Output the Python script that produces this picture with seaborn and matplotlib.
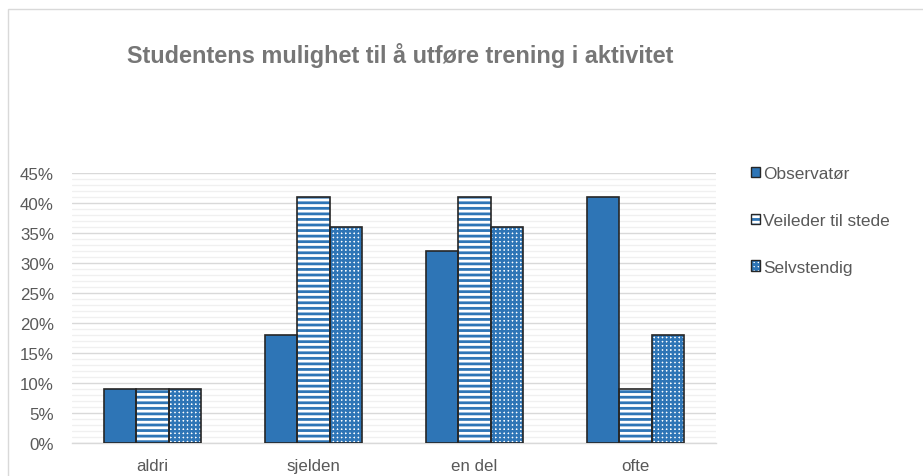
import matplotlib
matplotlib.use("Agg")
import matplotlib.pyplot as plt
import seaborn as sns
import pandas as pd
import numpy as np
from matplotlib.patches import Rectangle
from matplotlib.legend_handler import HandlerTuple
from matplotlib.ticker import MultipleLocator, PercentFormatter

categories = ["aldri", "sjelden", "en del", "ofte"]
series = ["Observatør", "Veileder til stede", "Selvstendig"]
observator = [9, 18, 32, 41]
veileder = [9, 41, 41, 9]
selvstendig = [9, 36, 36, 18]
title = "Studentens mulighet til å utføre trening i aktivitet"

rows = []
for s, vals in zip(series, [observator, veileder, selvstendig]):
    for c, v in zip(categories, vals):
        rows.append({"kategori": c, "serie": s, "verdi": v})
df = pd.DataFrame(rows)

sns.set_theme(style="white")
plt.rcParams["font.family"] = ["Liberation Sans", "DejaVu Sans"]
plt.rcParams["hatch.linewidth"] = 2.0

blue = "#2E75B6"
gray = "#595959"
faces = [blue, "white", "white"]

fig = plt.figure(figsize=(9.23, 4.77), dpi=100)
ax = fig.add_axes([72/923, 1 - 444/477, (716-72)/923, (444-174)/477])

sns.barplot(data=df, x="kategori", y="verdi", hue="serie", order=categories,
            hue_order=series, palette=faces, width=0.6,
            ax=ax, legend=False, errorbar=None, saturation=1, zorder=3)

hatches = [None, "---", "++++"]
hatch_lw = [1.0, 2.0, 1.8]
for i, cont in enumerate(ax.containers):
    for p in cont:
        p.set_hatch(hatches[i] if hatches[i] else "")
        p.set_edgecolor(blue)
        p.set_linewidth(0)
        if hasattr(p, "set_hatch_linewidth"):
            p.set_hatch_linewidth(hatch_lw[i])
        ax.add_patch(Rectangle(p.get_xy(), p.get_width(), p.get_height(),
                               fill=False, edgecolor="#262626", linewidth=1.2, zorder=4))

ax.set_ylim(0, 45)
ax.set_xlim(-0.5, 3.5)
ax.yaxis.set_major_locator(MultipleLocator(5))
ax.yaxis.set_minor_locator(MultipleLocator(1))
ax.yaxis.set_major_formatter(PercentFormatter(decimals=0))
ax.grid(axis="y", which="major", color="#d9d9d9", linewidth=1, zorder=0)
ax.grid(axis="y", which="minor", color="#f0f0f0", linewidth=1, zorder=0)
ax.set_axisbelow(True)
for s in ["top", "right", "left"]:
    ax.spines[s].set_visible(False)
ax.spines["bottom"].set_color("#d9d9d9")
ax.spines["bottom"].set_linewidth(1)
ax.tick_params(axis="both", which="both", length=0, colors=gray, labelsize=12.2)
ax.tick_params(axis="x", pad=11)
ax.tick_params(axis="y", pad=13)
ax.set_xlabel("")
ax.set_ylabel("")

fig.text(400/923, 1 - 55/477, title, ha="center", va="center", fontsize=16.9,
         fontweight="bold", color="#767676")

# legend
handles = []
for i in range(3):
    fill = Rectangle((0, 0), 1, 1, facecolor=faces[i], edgecolor=blue,
                     hatch=hatches[i] if hatches[i] else None, linewidth=0)
    outline = Rectangle((0, 0), 1, 1, fill=False, edgecolor="#262626", linewidth=1)
    handles.append((fill, outline))
leg = fig.legend(handles, series, loc="upper left", bbox_to_anchor=(751/923, 1 - 167/477),
                 frameon=False, fontsize=12.4, handlelength=0.55, handleheight=0.55,
                 handletextpad=0.15, labelspacing=1.85, borderaxespad=0, borderpad=0,
                 handler_map={tuple: HandlerTuple(ndivide=1, pad=0)})
for t in leg.get_texts():
    t.set_color(gray)

# chart border
fig.patches.append(Rectangle((8/923, -0.01), 1.0, 1 - 10/477 + 0.01, transform=fig.transFigure,
                             fill=False, edgecolor="#d9d9d9", linewidth=1))

fig.savefig("out.png", dpi=100)
